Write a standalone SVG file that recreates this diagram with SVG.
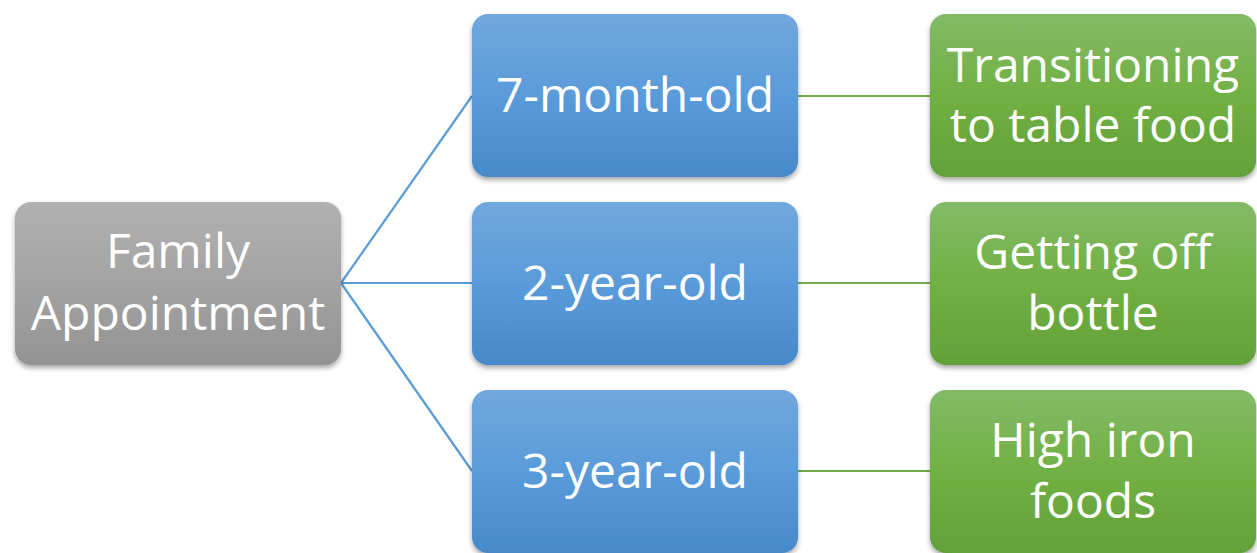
<svg xmlns="http://www.w3.org/2000/svg" width="1257" height="553" viewBox="0 0 1257 553">
<defs>
<linearGradient id="gGray" x1="0" y1="0" x2="0" y2="1"><stop offset="0" stop-color="#b1b1b1"/><stop offset="0.5" stop-color="#a3a3a3"/><stop offset="1" stop-color="#939393"/></linearGradient>
<linearGradient id="gBlue" x1="0" y1="0" x2="0" y2="1"><stop offset="0" stop-color="#71a7dc"/><stop offset="0.5" stop-color="#5a9bda"/><stop offset="1" stop-color="#4789cb"/></linearGradient>
<linearGradient id="gGreen" x1="0" y1="0" x2="0" y2="1"><stop offset="0" stop-color="#84ba67"/><stop offset="0.5" stop-color="#71b043"/><stop offset="1" stop-color="#63a13a"/></linearGradient>
<filter id="sh" x="-10%" y="-10%" width="120%" height="130%"><feDropShadow dx="0" dy="3" stdDeviation="2.5" flood-color="#000" flood-opacity="0.35"/></filter>
</defs>
<style>
.box{filter:url(#sh)}
.t{font-family:"Open Sans","Liberation Sans",sans-serif;font-size:48px;fill:#fff;text-anchor:middle}
.cb{stroke:#5b9bd5;stroke-width:2.2;fill:none}
.cg{stroke:#70ad47;stroke-width:2.2;fill:none}
</style>
<rect width="1257" height="553" fill="#fff"/>
<g id="connectors">
<line class="cb" x1="341" y1="283" x2="472" y2="96"/>
<line class="cb" x1="341" y1="283" x2="472" y2="283"/>
<line class="cb" x1="341" y1="283" x2="472" y2="471"/>
<line class="cg" x1="798" y1="96" x2="930" y2="96"/>
<line class="cg" x1="798" y1="283" x2="930" y2="283"/>
<line class="cg" x1="798" y1="471" x2="930" y2="471"/>
</g>
<g id="family">
<rect class="box" x="15" y="202" width="326" height="163" rx="16" fill="url(#gGray)"/>
<text class="t" x="178" y="268">Family</text>
<text class="t" x="178" y="330">Appointment</text>
</g>
<g id="age7m">
<rect class="box" x="472" y="14" width="326" height="163" rx="16" fill="url(#gBlue)"/>
<text class="t" x="635" y="112">7-month-old</text>
</g>
<g id="age2y">
<rect class="box" x="472" y="202" width="326" height="163" rx="16" fill="url(#gBlue)"/>
<text class="t" x="635" y="300">2-year-old</text>
</g>
<g id="age3y">
<rect class="box" x="472" y="390" width="326" height="163" rx="16" fill="url(#gBlue)"/>
<text class="t" x="635" y="488">3-year-old</text>
</g>
<g id="topic1">
<rect class="box" x="930" y="14" width="326" height="163" rx="16" fill="url(#gGreen)"/>
<text class="t" x="1093" y="82">Transitioning</text>
<text class="t" x="1093" y="142">to table food</text>
</g>
<g id="topic2">
<rect class="box" x="930" y="202" width="326" height="163" rx="16" fill="url(#gGreen)"/>
<text class="t" x="1093" y="269">Getting off</text>
<text class="t" x="1093" y="330">bottle</text>
</g>
<g id="topic3">
<rect class="box" x="930" y="390" width="326" height="163" rx="16" fill="url(#gGreen)"/>
<text class="t" x="1093" y="457">High iron</text>
<text class="t" x="1093" y="518">foods</text>
</g>
</svg>
